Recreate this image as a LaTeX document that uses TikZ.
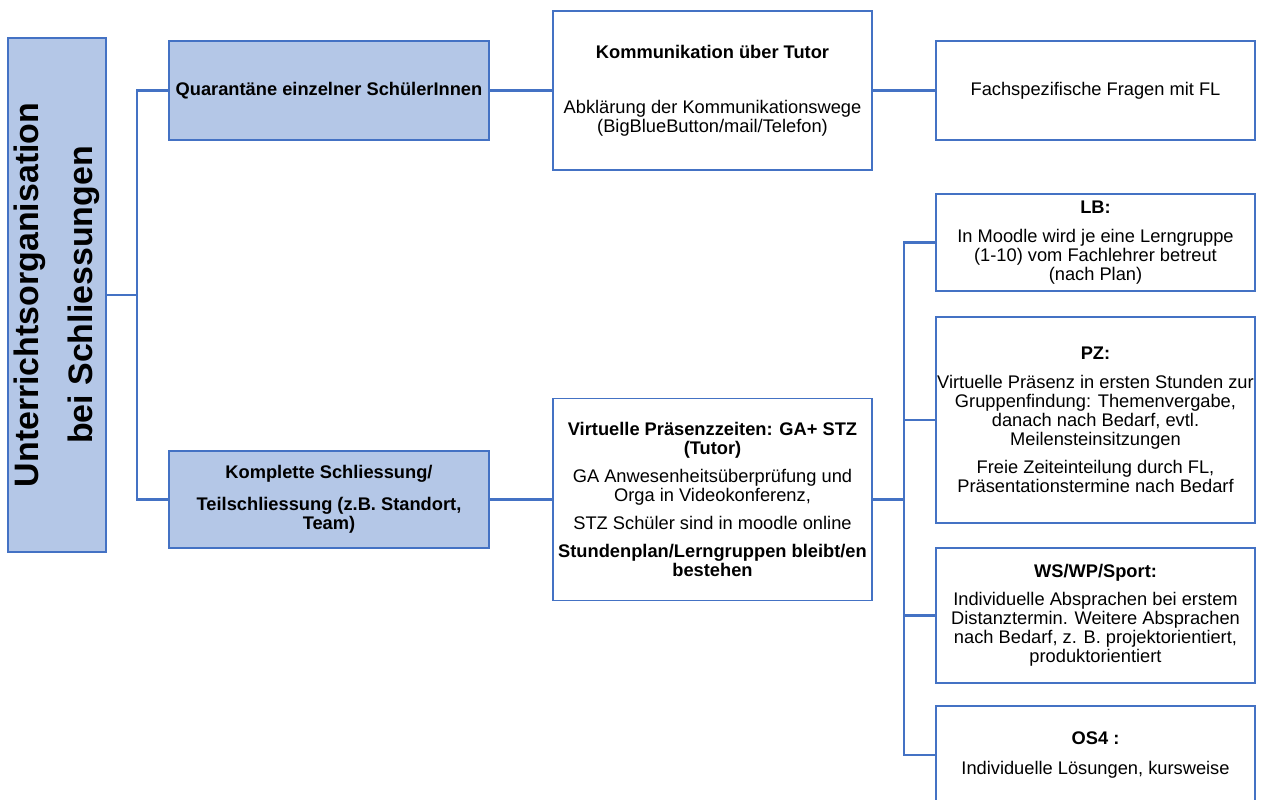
\documentclass[tikz,border=0pt]{standalone}
\usepackage{fontspec}
\setmainfont{Liberation Sans}
\definecolor{boxblue}{HTML}{4472C4}
\definecolor{boxfill}{HTML}{B4C7E7}
\newcommand{\boxfont}{\fontsize{10.4}{10.8}\selectfont}

\begin{document}
\begin{tikzpicture}[x=0.02cm, y=-0.02cm,
  box/.style={draw=boxblue, line width=1.1pt, fill=white, align=center, inner sep=0pt,
    minimum width=6.38cm, font=\boxfont},
  headbox/.style={box, fill=boxfill, minimum width=6.4cm, font=\boxfont\bfseries},
  link/.style={draw=boxblue, line width=1.3pt}]

  \useasboundingbox (0,0) rectangle (1262,800);

  % -- Root --
  \node[draw=boxblue, line width=1.1pt, fill=boxfill, minimum width=1.96cm, minimum height=10.28cm] (root) at (57,295) {};
  \node[rotate=90, align=center, font=\fontsize{19.3}{30.6}\selectfont\bfseries] (roottext) at (root.center) {Unterrichtsorganisation\\bei Schliessungen};

  % -- Second level --
  \node[headbox, minimum height=1.98cm] (quar) at (329,90.5) {Quarantäne einzelner SchülerInnen};
  \node[headbox, minimum height=1.94cm] (kompl) at (329,499.5) {Komplette Schliessung/\\[7.6pt]Teilschliessung (z.B. Standort,\\Team)};

  % -- Third level --
  \node[box, minimum height=3.18cm] (komm) at (712.5,90.5) {\textbf{Kommunikation über Tutor}\\[20.4pt]Abklärung der Kommunikationswege\\(BigBlueButton/mail/Telefon)};
  \node[box, minimum height=4.04cm] (virt) at (712.5,499.5) {\textbf{Virtuelle Präsenzzeiten: GA+ STZ}\\\textbf{(Tutor)}\\[5pt]GA Anwesenheitsüberprüfung und\\Orga in Videokonferenz,\\[5pt]STZ Schüler sind in moodle online\\[5.4pt]\textbf{Stundenplan/Lerngruppen bleibt/en}\\\textbf{bestehen}};

  % -- Fourth level --
  \node[box, minimum height=1.98cm] (fach) at (1095.5,90.5) {Fachspezifische Fragen mit FL};
  \node[box, minimum height=1.94cm] (lb) at (1095.5,242.5) {\textbf{LB:}\\[5.4pt]In Moodle wird je eine Lerngruppe\\(1-10) vom Fachlehrer betreut\\(nach Plan)};
  \node[box, minimum height=4.12cm] (pz) at (1095.5,420) {\textbf{PZ:}\\[5.4pt]Virtuelle Präsenz in ersten Stunden zur\\Gruppenfindung: Themenvergabe,\\danach nach Bedarf, evtl.\\Meilensteinsitzungen\\[5.4pt]Freie Zeiteinteilung durch FL,\\Präsentationstermine nach Bedarf};
  \node[box, minimum height=2.7cm] (ws) at (1095.5,615.5) {\textbf{WS/WP/Sport:}\\[5.4pt]Individuelle Absprachen bei erstem\\Distanztermin. Weitere Absprachen\\nach Bedarf, z. B. projektorientiert,\\produktorientiert};
  \node[box, minimum height=1.96cm] (os4) at (1095.5,755) {\textbf{OS4 :}\\[6pt]Individuelle Lösungen, kursweise};

  % -- Connectors --
  \coordinate (j1) at (137,295);
  \coordinate (j2) at (904,499.5);
  \draw[link] (root.east) -- (j1);
  \draw[link] (quar.west) -| (j1) |- (kompl.west);
  \draw[link] (quar.east) -- (komm.west);
  \draw[link] (komm.east) -- (fach.west);
  \draw[link] (kompl.east) -- (virt.west);
  \draw[link] (virt.east) -- (j2);
  \draw[link] (lb.west) -| (j2) |- (os4.west);
  \draw[link] (pz.west) -- (pz.west -| j2);
  \draw[link] (ws.west) -- (ws.west -| j2);

\end{tikzpicture}
\end{document}
